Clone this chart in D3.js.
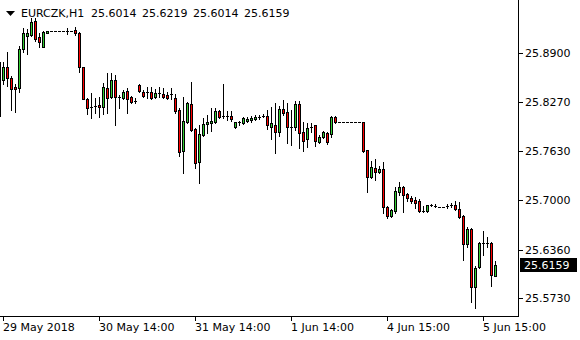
<!DOCTYPE html>
<html>
<head>
<meta charset="utf-8">
<script src="https://cdn.jsdelivr.net/npm/d3@7"></script>
<style>
  body { margin: 0; background: #fff; }
  svg { display: block; }
  text { font-family: "DejaVu Sans", sans-serif; font-size: 11px; fill: #000; }
</style>
</head>
<body>
<svg width="580" height="340"></svg>
<script>
// EURCZK H1 bars, oldest first (first bar is cut by the left edge)
const open = [
  25.8788, 25.8555, 25.8723, 25.8581, 25.8464, 25.8451, 25.8956, 25.9124, 25.9137, 25.9318,
  25.9111, 25.8982, 25.9163, 25.9189, 25.9189, 25.9192, 25.9189, 25.9192, 25.9189, 25.9202,
  25.9163, 25.8723, 25.8309, 25.8206, 25.8212, 25.8231, 25.8206, 25.8451, 25.8335, 25.8555,
  25.8335, 25.8322, 25.8413, 25.8335, 25.8283, 25.8490, 25.8400, 25.8400, 25.8400, 25.8335,
  25.8387, 25.8374, 25.8361, 25.8374, 25.8322, 25.8167, 25.7636, 25.8011, 25.8244, 25.7921,
  25.7494, 25.7843, 25.7986, 25.7998, 25.8011, 25.8154, 25.8089, 25.8083, 25.8089, 25.7947,
  25.8011, 25.7998, 25.8024, 25.8037, 25.8050, 25.8076, 25.8086, 25.8089, 25.7947, 25.7973,
  25.7882, 25.8180, 25.8141, 25.7947, 25.7947, 25.8244, 25.7882, 25.7792, 25.7947, 25.7973,
  25.7753, 25.7817, 25.7869, 25.7856, 25.8076, 25.8011, 25.8011, 25.8011, 25.8011, 25.8011,
  25.8011, 25.8011, 25.7649, 25.7300, 25.7416, 25.7365, 25.7403, 25.6912, 25.6795, 25.6860,
  25.7106, 25.7171, 25.7080, 25.7028, 25.7002, 25.6989, 25.6860, 25.6860, 25.6938, 25.6925,
  25.6912, 25.6912, 25.6925, 25.6938, 25.6938, 25.6886, 25.6795, 25.6433, 25.6627, 25.5877,
  25.6136, 25.6446, 25.6443, 25.6446, 25.6014
]
const high = [
  25.8814, 25.8788, 25.8917, 25.8607, 25.8503, 25.8995, 25.9228, 25.9215, 25.9357, 25.9357,
  25.9163, 25.9189, 25.9189, 25.9195, 25.9192, 25.9195, 25.9195, 25.9228, 25.9195, 25.9241,
  25.9176, 25.8723, 25.8322, 25.8387, 25.8322, 25.8335, 25.8516, 25.8646, 25.8646, 25.8620,
  25.8361, 25.8426, 25.8451, 25.8348, 25.8322, 25.8503, 25.8426, 25.8464, 25.8464, 25.8438,
  25.8464, 25.8451, 25.8400, 25.8451, 25.8374, 25.8193, 25.8335, 25.8270, 25.8529, 25.7934,
  25.7973, 25.8063, 25.8102, 25.8193, 25.8193, 25.8167, 25.8503, 25.8154, 25.8154, 25.8011,
  25.8024, 25.8076, 25.8076, 25.8089, 25.8102, 25.8102, 25.8115, 25.8167, 25.8206, 25.8257,
  25.8218, 25.8296, 25.8257, 25.8167, 25.8283, 25.8283, 25.8011, 25.7998, 25.7998, 25.7973,
  25.7843, 25.7895, 25.7882, 25.8089, 25.8089, 25.8011, 25.8011, 25.8011, 25.8011, 25.8011,
  25.8011, 25.8011, 25.7649, 25.7507, 25.7533, 25.7442, 25.7494, 25.6925, 25.6886, 25.7171,
  25.7235, 25.7184, 25.7093, 25.7054, 25.7041, 25.7015, 25.6925, 25.6938, 25.6951, 25.6951,
  25.6915, 25.6915, 25.6951, 25.6963, 25.6989, 25.6976, 25.6808, 25.6653, 25.6640, 25.6149,
  25.6459, 25.6601, 25.6524, 25.6459, 25.6219
]
const low = [
  25.8037, 25.8503, 25.8477, 25.8167, 25.8141, 25.8400, 25.8917, 25.8891, 25.9124, 25.9060,
  25.8982, 25.8982, 25.9163, 25.9185, 25.9185, 25.9189, 25.9185, 25.9150, 25.9185, 25.9137,
  25.8658, 25.8309, 25.8115, 25.8063, 25.8128, 25.8076, 25.8115, 25.8128, 25.8322, 25.7973,
  25.8193, 25.8309, 25.8128, 25.8257, 25.8257, 25.8400, 25.8335, 25.8322, 25.8309, 25.8322,
  25.8335, 25.8322, 25.8309, 25.8309, 25.8128, 25.7572, 25.7352, 25.7998, 25.7895, 25.7416,
  25.7222, 25.7830, 25.7869, 25.7895, 25.7998, 25.8063, 25.8063, 25.8037, 25.8024, 25.7934,
  25.7973, 25.7986, 25.8011, 25.8011, 25.8037, 25.8050, 25.8076, 25.7921, 25.7792, 25.7611,
  25.7830, 25.8102, 25.7740, 25.7714, 25.7908, 25.7675, 25.7636, 25.7688, 25.7882, 25.7701,
  25.7740, 25.7804, 25.7727, 25.7817, 25.7998, 25.8011, 25.8011, 25.8011, 25.8011, 25.8011,
  25.8011, 25.7623, 25.7106, 25.7287, 25.7261, 25.7352, 25.6834, 25.6769, 25.6782, 25.6834,
  25.7067, 25.6847, 25.6989, 25.6963, 25.6899, 25.6847, 25.6847, 25.6847, 25.6925, 25.6912,
  25.6909, 25.6909, 25.6899, 25.6912, 25.6873, 25.6769, 25.6226, 25.6394, 25.5683, 25.5605,
  25.6123, 25.6291, 25.6394, 25.5890, 25.6014
]
const close = [
  25.8089, 25.8723, 25.8581, 25.8438, 25.8438, 25.8956, 25.9163, 25.9163, 25.9305, 25.9085,
  25.9047, 25.9176, 25.9189, 25.9189, 25.9192, 25.9189, 25.9192, 25.9189, 25.9189, 25.9163,
  25.8723, 25.8309, 25.8193, 25.8200, 25.8218, 25.8206, 25.8464, 25.8322, 25.8555, 25.8335,
  25.8330, 25.8400, 25.8309, 25.8270, 25.8280, 25.8413, 25.8348, 25.8397, 25.8322, 25.8387,
  25.8384, 25.8335, 25.8322, 25.8371, 25.8154, 25.7623, 25.8024, 25.8257, 25.7908, 25.7481,
  25.7856, 25.7986, 25.8011, 25.8024, 25.8154, 25.8076, 25.8083, 25.8086, 25.8050, 25.8011,
  25.8008, 25.8063, 25.8050, 25.8063, 25.8076, 25.8079, 25.8089, 25.7973, 25.7998, 25.7882,
  25.8180, 25.8128, 25.7947, 25.7944, 25.8244, 25.7869, 25.7766, 25.7934, 25.7944, 25.7766,
  25.7817, 25.7882, 25.7753, 25.8076, 25.8011, 25.8011, 25.8011, 25.8011, 25.8011, 25.8011,
  25.8011, 25.7636, 25.7300, 25.7429, 25.7365, 25.7403, 25.6912, 25.6795, 25.6873, 25.7119,
  25.7171, 25.7067, 25.7028, 25.6989, 25.6963, 25.6860, 25.6857, 25.6938, 25.6935, 25.6922,
  25.6912, 25.6912, 25.6922, 25.6935, 25.6886, 25.6782, 25.6433, 25.6627, 25.5877, 25.6123,
  25.6446, 25.6443, 25.6446, 25.6032, 25.6159
]

// price axis (MT4 picks these odd steps itself)
const priceTicks = [25.890, 25.827, 25.763, 25.700, 25.636, 25.573]
const lastPrice = 25.6159

// time axis: bar index -> label
const timeTickIdx = [1, 25, 49, 73, 97, 121]
const timeTickLabels = ['29 May 2018', '30 May 14:00', '31 May 14:00', '1 Jun 14:00', '4 Jun 15:00', '5 Jun 15:00']

const headerSymbol = 'EURCZK,H1'
const headerOHLC = [25.6014, 25.6219, 25.6014, 25.6159]

const bullColor = '#32cd32'
const bearColor = '#ff0000'
const plotRight = 518
const plotBottom = 316

const svg = d3.select('svg').attr('shape-rendering', 'crispEdges')

// one bar every 4px
const x = d3.scaleLinear().domain([0, open.length]).range([-1, -1 + 4 * open.length])
const y = d3.scaleLinear().domain([25.573, 25.890]).range([298.3, 53.3])

const bars = open.map((o, i) => ({ i, o, h: high[i], l: low[i], c: close[i] }))

const candles = svg.append('g').selectAll('g.candle')
  .data(bars)
  .enter()
  .append('g')
  .classed('candle', true)

// wick
candles.append('rect')
  .attr('x', d => x(d.i))
  .attr('width', 1)
  .attr('y', d => Math.round(y(d.h)))
  .attr('height', d => Math.max(1, Math.round(y(d.l)) - Math.round(y(d.h)) + 1))
  .attr('fill', '#000')

// body outline
const bodyTop = d => Math.round(y(Math.max(d.o, d.c)))
const bodyBot = d => Math.round(y(Math.min(d.o, d.c)))
candles.append('rect')
  .attr('x', d => x(d.i) - 1)
  .attr('width', 3)
  .attr('y', bodyTop)
  .attr('height', d => Math.max(1, bodyBot(d) - bodyTop(d) + 1))
  .attr('fill', '#000')

// body fill
candles.filter(d => bodyBot(d) - bodyTop(d) >= 2)
  .append('rect')
  .attr('x', d => x(d.i))
  .attr('width', 1)
  .attr('y', d => bodyTop(d) + 1)
  .attr('height', d => bodyBot(d) - bodyTop(d) - 1)
  .attr('fill', d => d.c >= d.o ? bullColor : bearColor)

// axis lines
svg.append('rect').attr('x', plotRight).attr('y', 0).attr('width', 1).attr('height', plotBottom + 1).attr('fill', '#000')
svg.append('rect').attr('x', 0).attr('y', plotBottom).attr('width', plotRight + 1).attr('height', 1).attr('fill', '#000')

// price ticks + labels
const pt = svg.append('g').selectAll('g').data(priceTicks).enter().append('g')
pt.append('rect')
  .attr('x', plotRight + 1).attr('width', 4)
  .attr('y', d => Math.round(y(d))).attr('height', 1)
  .attr('fill', '#000')
pt.append('text')
  .attr('x', 525)
  .attr('y', d => Math.round(y(d)) + 4)
  .text(d => d.toFixed(4))

// last price marker
const lp = Math.round(y(lastPrice))
svg.append('rect').attr('x', 520).attr('y', lp - 7).attr('width', 57).attr('height', 14).attr('fill', '#000')
svg.append('text').attr('x', 524).attr('y', lp + 4).style('fill', '#fff').text(lastPrice.toFixed(4))

// time ticks + labels
const tt = svg.append('g').selectAll('g').data(timeTickIdx).enter().append('g')
tt.append('rect')
  .attr('x', d => x(d)).attr('width', 1)
  .attr('y', plotBottom).attr('height', 5)
  .attr('fill', '#000')
tt.append('text')
  .attr('x', d => x(d))
  .attr('y', 331)
  .text((d, i) => timeTickLabels[i])

// header
svg.append('path').attr('d', 'M6,11L15,11L10.5,16Z').attr('fill', '#000').attr('shape-rendering', 'auto')
svg.append('text').attr('x', 21).attr('y', 17).text(headerSymbol)
svg.append('g').selectAll('text').data(headerOHLC).enter().append('text')
  .attr('x', (d, i) => 91 + i * 51)
  .attr('y', 17)
  .text(d => d.toFixed(4))
</script>
</body>
</html>
